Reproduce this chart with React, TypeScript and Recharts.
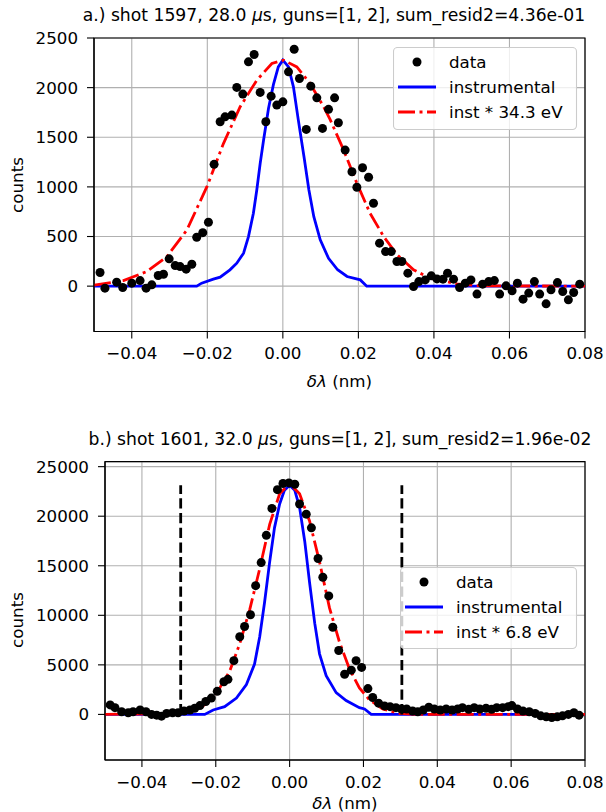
import React from 'react';
import {
  ComposedChart, Scatter, Line, XAxis, YAxis, CartesianGrid, ReferenceArea, ReferenceLine,
} from 'recharts';

const FONT = 'DejaVu Sans';
const FS = 16.7;
const TITLE_FS = 17.2;

const xTicks = [-0.04, -0.02, 0, 0.02, 0.04, 0.06, 0.08];
const yTicksA = [0, 500, 1000, 1500, 2000, 2500];
const yTicksB = [0, 5000, 10000, 15000, 20000, 25000];

// shot 1597 (panel a)
const dataA: [number, number][] = [
  [-0.0484, 137], [-0.0471, -20], [-0.044, 40], [-0.0424, -14], [-0.04, 30], [-0.0378, 56],
  [-0.0362, -20], [-0.0347, 13], [-0.033, 107], [-0.0316, 120], [-0.0301, 275], [-0.0285, 207],
  [-0.0272, 197], [-0.0256, 171], [-0.0241, 221], [-0.0228, 493], [-0.0212, 539], [-0.0197, 644],
  [-0.0182, 1227], [-0.0166, 1656], [-0.0153, 1706], [-0.0135, 1723], [-0.0122, 2002], [-0.0106, 1935],
  [-0.0091, 2260], [-0.0076, 2334], [-0.006, 1952], [-0.0045, 1656], [-0.0031, 1914], [-0.0016, 1824],
  [0.0, 1857], [0.0015, 2159], [0.003, 2387], [0.0044, 2092], [0.0062, 1579], [0.0074, 2015],
  [0.009, 1897], [0.0105, 1589], [0.0121, 1781], [0.0137, 1897], [0.0147, 1646], [0.0165, 1371],
  [0.0183, 1153], [0.0196, 996], [0.0211, 1193], [0.0227, 1097], [0.024, 835], [0.0256, 433],
  [0.0272, 348], [0.0287, 348], [0.0302, 248], [0.0315, 248], [0.0331, 131], [0.0346, -4],
  [0.036, 46], [0.0377, 63], [0.0393, 104], [0.0408, 73], [0.0424, 70], [0.0436, 131],
  [0.0452, 70], [0.0468, -14], [0.0483, 30], [0.0498, 63], [0.0514, -80], [0.0529, 20],
  [0.0545, 46], [0.056, 56], [0.0574, -80], [0.0591, 3], [0.0607, -47], [0.0621, 30],
  [0.0636, -131], [0.0651, -70], [0.0666, 46], [0.068, -80], [0.0697, -178], [0.071, -37],
  [0.0727, 36], [0.0741, -54], [0.0756, -138], [0.077, -64], [0.0786, 20],
];
const instA: [number, number][] = [
  [-0.05, 0], [-0.0228, 0], [-0.0215, 30], [-0.0184, 70], [-0.0166, 90], [-0.014, 164],
  [-0.0122, 231], [-0.0104, 332], [-0.0091, 499], [-0.0078, 734], [-0.0069, 969], [-0.006, 1237],
  [-0.0051, 1472], [-0.0038, 1790], [-0.0025, 2030], [-0.0012, 2209], [0.0, 2277], [0.0015, 2209],
  [0.0028, 2008], [0.0041, 1673], [0.0056, 1304], [0.0069, 969], [0.0082, 700], [0.0099, 466],
  [0.0121, 280], [0.0145, 165], [0.017, 97], [0.0205, 63], [0.0222, 0], [0.08, 0],
];
const fitA: [number, number][] = [
  [-0.05, 10], [-0.0422, 56], [-0.036, 147], [-0.0307, 298], [-0.0254, 566], [-0.0201, 1002],
  [-0.0157, 1439], [-0.0113, 1807], [-0.0069, 2075], [-0.0029, 2243], [0.0002, 2277], [0.0037, 2209],
  [0.0072, 2042], [0.0108, 1807], [0.0125, 1680], [0.0161, 1371], [0.0196, 1036], [0.0231, 734],
  [0.0267, 499], [0.0303, 315], [0.0346, 164], [0.039, 80], [0.0461, 23], [0.0523, 3], [0.08, 0],
];

// shot 1601 (panel b)
const dataB: [number, number][] = [
  [-0.0486, 959], [-0.0473, 680], [-0.0455, 268], [-0.0437, 165], [-0.0424, 268], [-0.0405, 443],
  [-0.0389, 268], [-0.0374, 0], [-0.036, -72], [-0.0347, -175], [-0.0333, 103], [-0.0317, 165],
  [-0.0302, 165], [-0.0286, 340], [-0.027, 443], [-0.0257, 619], [-0.0243, 887], [-0.0227, 1299],
  [-0.0212, 1649], [-0.0196, 2330], [-0.0178, 3299], [-0.0167, 3536], [-0.0151, 5423], [-0.0135, 7835],
  [-0.0122, 8866], [-0.0106, 10062], [-0.0092, 12990], [-0.0077, 15320], [-0.0063, 18072], [-0.0048, 20784],
  [-0.0033, 22680], [-0.0018, 23299], [-0.0002, 23360], [0.0014, 23227], [0.0027, 21237], [0.0045, 20206],
  [0.0059, 18825], [0.0077, 15732], [0.009, 13845], [0.0106, 11959], [0.0117, 8794], [0.0133, 6454],
  [0.0149, 4052], [0.0167, 4464], [0.018, 5423], [0.0195, 4742], [0.0212, 2608], [0.0225, 1711],
  [0.0241, 1134], [0.0257, 856], [0.0272, 784], [0.0288, 680], [0.0303, 546], [0.0317, 546],
  [0.0333, 340], [0.0347, 268], [0.0362, 443], [0.0377, 722], [0.0392, 546], [0.0408, 443],
  [0.0424, 546], [0.044, 443], [0.0455, 546], [0.0468, 680], [0.0485, 515], [0.05, 680],
  [0.0515, 546], [0.0532, 619], [0.0547, 515], [0.0561, 680], [0.0577, 680], [0.0592, 784],
  [0.0602, 887], [0.0617, 546], [0.0632, 340], [0.0649, 268], [0.0665, 103], [0.068, -144],
  [0.0695, -247], [0.071, -309], [0.0725, -247], [0.0739, -144], [0.0755, 0], [0.077, 165],
  [0.0784, -72],
];
const instB: [number, number][] = [
  [-0.05, 0], [-0.023, 0], [-0.0207, 443], [-0.0176, 784], [-0.0144, 1649], [-0.0117, 3021],
  [-0.0095, 5082], [-0.0081, 7835], [-0.0068, 11268], [-0.0054, 15392], [-0.0041, 18825], [-0.0027, 21237],
  [-0.0014, 22608], [0.0, 23124], [0.0014, 22608], [0.0027, 20887], [0.0041, 17454], [0.0054, 13330],
  [0.0068, 9206], [0.0081, 6113], [0.0099, 3900], [0.0126, 2200], [0.0153, 1400], [0.0189, 680],
  [0.0203, 546], [0.0221, 0], [0.08, 0],
];
const fitB: [number, number][] = [
  [-0.05, 0], [-0.03, 100], [-0.027, 350], [-0.0243, 680], [-0.0216, 1299], [-0.0189, 2680],
  [-0.0162, 4392], [-0.0135, 7144], [-0.0108, 10577], [-0.0081, 14701], [-0.0054, 19175], [-0.0027, 22268],
  [0.0, 23299], [0.0027, 22268], [0.0054, 19515], [0.0081, 15392], [0.0108, 10750], [0.0135, 7300],
  [0.0162, 4600], [0.0189, 2680], [0.0216, 1474], [0.0252, 546], [0.0297, 103], [0.035, 0], [0.08, 0],
];
const windowB = [-0.0295, 0.0304];
const windowTopB = 23124;

const pts = (arr: [number, number][]) => arr.map(([x, y]) => ({ x, y }));
const fmtX = (v: number) => (v < 0 ? '\u2212' : '') + Math.abs(v).toFixed(2);

const Dot = (p: any) => <circle cx={p.cx} cy={p.cy} r={4.5} fill="#000" />;

const tickStyle = { fill: '#000', fontSize: FS, fontFamily: FONT };
const axisLine = { stroke: '#000', strokeWidth: 1.1 };

interface PanelProps {
  top: number;
  margin: { top: number; right: number; bottom: number; left: number };
  yDomain: [number, number];
  yTicks: number[];
  data: [number, number][];
  inst: [number, number][];
  fit: [number, number][];
  windowLines?: boolean;
}

const Panel: React.FC<PanelProps> = ({ top, margin, yDomain, yTicks, data, inst, fit, windowLines }) => (
  <div style={{ position: 'absolute', left: 0, top }}>
    <ComposedChart width={606} height={406} margin={margin}>
      <CartesianGrid stroke="#b0b0b0" strokeWidth={1.1} />
      <XAxis
        type="number" dataKey="x" domain={[-0.05, 0.08]} ticks={xTicks} allowDataOverflow
        tickFormatter={fmtX} tick={tickStyle} tickLine={axisLine} axisLine={axisLine}
        tickSize={7} tickMargin={9} height={40} interval={0}
      />
      <YAxis
        type="number" domain={yDomain} ticks={yTicks} allowDataOverflow
        tick={tickStyle} tickLine={axisLine} axisLine={axisLine}
        tickSize={7} tickMargin={9} width={60} interval={0}
      />
      <Scatter data={pts(data)} dataKey="y" shape={Dot} isAnimationActive={false} />
      <Line data={pts(inst)} dataKey="y" type="linear" stroke="#0000ff" strokeWidth={2.8}
        dot={false} activeDot={false} isAnimationActive={false} />
      <Line data={pts(fit)} dataKey="y" type="linear" stroke="#ff0000" strokeWidth={2.8}
        strokeDasharray="17 4.5 3 4.5" dot={false} activeDot={false} isAnimationActive={false} />
      {windowLines && windowB.map((wx) => (
        <ReferenceLine key={wx} segment={[{ x: wx, y: 0 }, { x: wx, y: windowTopB }]}
          stroke="#000" strokeWidth={2.8} strokeDasharray="10.3 4.4" ifOverflow="visible" />
      ))}
      <ReferenceArea x1={-0.05} x2={0.08} y1={yDomain[0]} y2={yDomain[1]}
        fill="none" fillOpacity={0} stroke="#000" strokeWidth={1.2} ifOverflow="visible" />
    </ComposedChart>
  </div>
);

const LegendBox: React.FC<{ left: number; top: number; w: number; h: number; fitLabel: string }> = ({ left, top, w, h, fitLabel }) => {
  const rows = [15, 40, 65];
  const tx = 56;
  return (
    <svg width={w + 2} height={h + 2} style={{ position: 'absolute', left, top }}>
      <rect x={0.5} y={0.5} width={w} height={h} rx={4} fill="rgba(255,255,255,0.8)" stroke="#cccccc" strokeWidth={1.1} />
      <circle cx={24} cy={rows[0]} r={4.5} fill="#000" />
      <line x1={5} x2={43} y1={rows[1]} y2={rows[1]} stroke="#0000ff" strokeWidth={2.8} />
      <line x1={5} x2={43} y1={rows[2]} y2={rows[2]} stroke="#ff0000" strokeWidth={2.8} strokeDasharray="17 4.5 3 4.5" />
      {['data', 'instrumental', fitLabel].map((t, i) => (
        <text key={t} x={tx} y={rows[i]} dominantBaseline="central" fontFamily={FONT} fontSize={FS} fill="#000">{t}</text>
      ))}
    </svg>
  );
};

const textBase: React.CSSProperties = {
  position: 'absolute', fontFamily: FONT, fontSize: FS, color: '#000', whiteSpace: 'nowrap',
  lineHeight: 1, transform: 'translate(-50%, -50%)',
};

const Title: React.FC<{ x: number; y: number; pre: string; post: string }> = ({ x, y, pre, post }) => (
  <div style={{ ...textBase, fontSize: TITLE_FS, left: x, top: y }}>
    {pre}<span style={{ fontStyle: 'italic' }}>μ</span>{post}
  </div>
);

const XLabel: React.FC<{ x: number; y: number }> = ({ x, y }) => (
  <div style={{ ...textBase, left: x, top: y }}>
    <span style={{ fontStyle: 'italic' }}>δλ</span> (nm)
  </div>
);

const YLabel: React.FC<{ x: number; y: number }> = ({ x, y }) => (
  <div style={{ ...textBase, left: x, top: y, transform: 'translate(-50%, -50%) rotate(-90deg)' }}>counts</div>
);

export default function App() {
  return (
    <div style={{ position: 'absolute', left: 0, top: 0, width: 606, height: 812, background: '#fff', overflow: 'hidden' }}>
      <Panel
        top={0}
        margin={{ top: 38, right: 21, bottom: 34.5, left: 34 }}
        yDomain={[-457, 2500]} yTicks={yTicksA}
        data={dataA} inst={instA} fit={fitA}
      />
      <Panel
        top={406}
        margin={{ top: 55.7, right: 21, bottom: 12, left: 45 }}
        yDomain={[-4600, 25500]} yTicks={yTicksB}
        data={dataB} inst={instB} fit={fitB} windowLines
      />
      <Title x={334} y={16} pre="a.) shot 1597, 28.0 " post="s, guns=[1, 2], sum_resid2=4.36e-01" />
      <Title x={340} y={440} pre="b.) shot 1601, 32.0 " post="s, guns=[1, 2], sum_resid2=1.96e-02" />
      <XLabel x={339.5} y={381} />
      <XLabel x={345} y={803} />
      <YLabel x={17} y={185} />
      <YLabel x={17} y={620} />
      <LegendBox left={393} top={47} w={183} h={82} fitLabel="inst * 34.3 eV" />
      <LegendBox left={400} top={567} w={176} h={81} fitLabel="inst * 6.8 eV" />
    </div>
  );
}
